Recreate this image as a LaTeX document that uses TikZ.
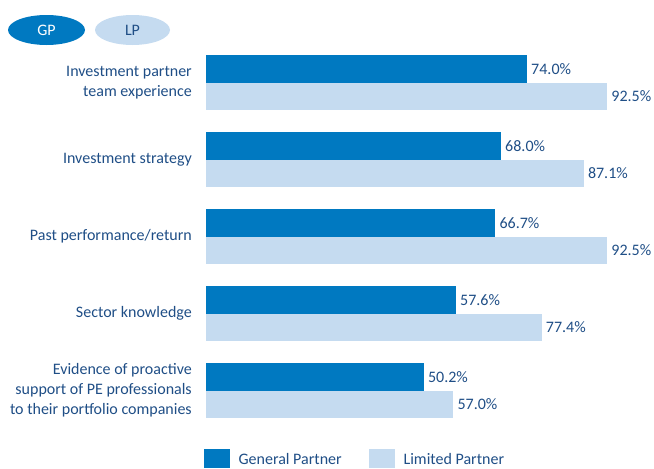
\documentclass[tikz,border=0pt]{standalone}
\usepackage{fontspec}
\setmainfont{Carlito}
\usetikzlibrary{shapes.geometric}
\definecolor{gpblue}{HTML}{0079C1}
\definecolor{lpblue}{HTML}{C5DBF0}
\definecolor{txtblue}{HTML}{1F4E86}
\begin{document}
\begin{tikzpicture}[x=1pt,y=-1pt,
  every node/.style={font=\fontsize{16}{20}\selectfont, text=txtblue, inner sep=0pt},
  gpbar/.style={fill=gpblue, minimum height=27.5pt, anchor=north west},
  lpbar/.style={fill=lpblue, minimum height=27.5pt, anchor=north west},
  vallabel/.style={anchor=west},
  catlabel/.style={anchor=east, align=right},
  pill/.style={ellipse, minimum width=77pt, minimum height=30pt}]
\useasboundingbox (0,0) rectangle (654,469);
\node[pill, fill=gpblue, text=white] (pgp) at (46.5,30) {GP};
\node[pill, fill=lpblue, minimum width=75pt] (plp) at (132.5,30) {LP};
\foreach \i/\g/\l/\lab in {0/74.0/92.5/{Investment partner\\team experience},
  1/68.0/87.1/{Investment strategy},
  2/66.7/92.5/{Past performance/return},
  3/57.6/77.4/{Sector knowledge},
  4/50.2/57.0/{Evidence of proactive\\support of PE professionals\\to their portfolio companies}}{
  \pgfmathsetmacro{\y}{55+77*\i}
  \node[gpbar, minimum width=\g*4.333pt] (gp\i) at (206,\y) {};
  \node[lpbar, minimum width=\l*4.333pt] (lp\i) at (206,\y+27.5) {};
  \node[vallabel] (gv\i) at ([xshift=4pt]gp\i.east) {\g\%};
  \node[vallabel] (lv\i) at ([xshift=4pt]lp\i.east) {\l\%};
  \node[catlabel] (cat\i) at (192,\y+27.5) {\lab};
}
\node[fill=gpblue, minimum width=26pt, minimum height=19pt, anchor=north west] (lgp) at (204,449) {};
\node[anchor=west] (lgpt) at ([xshift=8pt]lgp.east) {General Partner};
\node[fill=lpblue, minimum width=26pt, minimum height=19pt, anchor=north west] (llp) at (369,449) {};
\node[anchor=west] (llpt) at ([xshift=8pt]llp.east) {Limited Partner};
\end{tikzpicture}
\end{document}
